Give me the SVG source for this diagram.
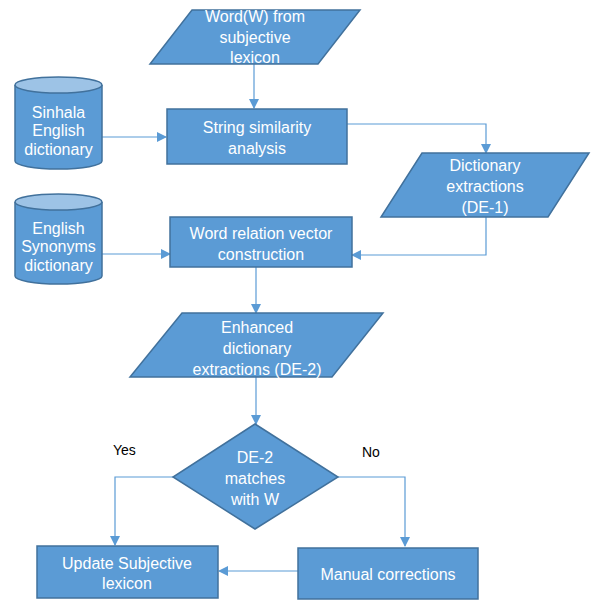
<svg xmlns="http://www.w3.org/2000/svg" width="595" height="601" viewBox="0 0 595 601">
<defs>
<style>
.shape{fill:#5B9BD5;stroke:#41719C;stroke-width:1.5}
.cap{fill:#9DC3E6;stroke:#41719C;stroke-width:1.5}
.t{fill:#FFFFFF;font-family:"Liberation Sans","Open Sans",sans-serif;font-size:16px;text-anchor:middle}
.lbl{fill:#000000;font-family:"Liberation Sans","Open Sans",sans-serif;font-size:14px}
.c{fill:none;stroke:#5B9BD5;stroke-width:1.2}
</style>
<marker id="ah" markerWidth="10" markerHeight="10" refX="9" refY="5" orient="auto" markerUnits="userSpaceOnUse">
<path d="M0,0 L10,5 L0,10 Z" fill="#5B9BD5"/>
</marker>
</defs>
<rect width="595" height="601" fill="#FFFFFF"/>
<g id="connectors">
<path class="c" d="M254,64 V108" marker-end="url(#ah)"/>
<path class="c" d="M102,137 H166" marker-end="url(#ah)"/>
<path class="c" d="M347,124 H486 V153" marker-end="url(#ah)"/>
<path class="c" d="M486,217 V255 H352" marker-end="url(#ah)"/>
<path class="c" d="M102,254 H170" marker-end="url(#ah)"/>
<path class="c" d="M256,267 V313" marker-end="url(#ah)"/>
<path class="c" d="M256,377 V424" marker-end="url(#ah)"/>
<path class="c" d="M173,477 H115 V545" marker-end="url(#ah)"/>
<path class="c" d="M338,477 H405 V546" marker-end="url(#ah)"/>
<path class="c" d="M298,571 H219" marker-end="url(#ah)"/>
</g>
<g id="word">
<polygon class="shape" points="192,10 360,10 318,64 150,64"/>
<text class="t" x="255" y="22">Word(W) from</text>
<text class="t" x="255" y="43">subjective</text>
<text class="t" x="255" y="63">lexicon</text>
</g>
<g id="sinhala-dict">
<path class="shape" d="M15,85 V161 A43.5,8 0 0 0 102,161 V85"/>
<ellipse class="cap" cx="58.5" cy="85" rx="43.5" ry="8"/>
<text class="t" x="58.5" y="118">Sinhala</text>
<text class="t" x="58.5" y="136">English</text>
<text class="t" x="58.5" y="155">dictionary</text>
</g>
<g id="string-sim">
<rect class="shape" x="167" y="109" width="180" height="55"/>
<text class="t" x="257" y="133">String similarity</text>
<text class="t" x="257" y="154">analysis</text>
</g>
<g id="de1">
<polygon class="shape" points="422,153 589,153 548,217 381,217"/>
<text class="t" x="485" y="171">Dictionary</text>
<text class="t" x="485" y="192">extractions</text>
<text class="t" x="485" y="213">(DE-1)</text>
</g>
<g id="synonyms-dict">
<path class="shape" d="M15,202 V276 A43.5,8 0 0 0 102,276 V202"/>
<ellipse class="cap" cx="58.5" cy="202" rx="43.5" ry="8"/>
<text class="t" x="58.5" y="234">English</text>
<text class="t" x="58.5" y="252">Synonyms</text>
<text class="t" x="58.5" y="271">dictionary</text>
</g>
<g id="word-rel">
<rect class="shape" x="170" y="217" width="182" height="50"/>
<text class="t" x="261" y="239">Word relation vector</text>
<text class="t" x="261" y="260">construction</text>
</g>
<g id="de2">
<polygon class="shape" points="182,313 383,313 332,377 130,377"/>
<text class="t" x="257" y="333">Enhanced</text>
<text class="t" x="257" y="354">dictionary</text>
<text class="t" x="257" y="375">extractions (DE-2)</text>
</g>
<g id="decision">
<polygon class="shape" points="255,424 338,477 255,529 173,477"/>
<text class="t" x="255" y="463">DE-2</text>
<text class="t" x="255" y="484">matches</text>
<text class="t" x="255" y="505">with W</text>
</g>
<g id="labels">
<text class="lbl" x="113" y="455">Yes</text>
<text class="lbl" x="362" y="457">No</text>
</g>
<g id="update">
<rect class="shape" x="37" y="546" width="181" height="52"/>
<text class="t" x="127" y="569">Update Subjective</text>
<text class="t" x="127" y="589">lexicon</text>
</g>
<g id="manual">
<rect class="shape" x="298" y="548" width="180" height="51"/>
<text class="t" x="388" y="580">Manual corrections</text>
</g>
</svg>
